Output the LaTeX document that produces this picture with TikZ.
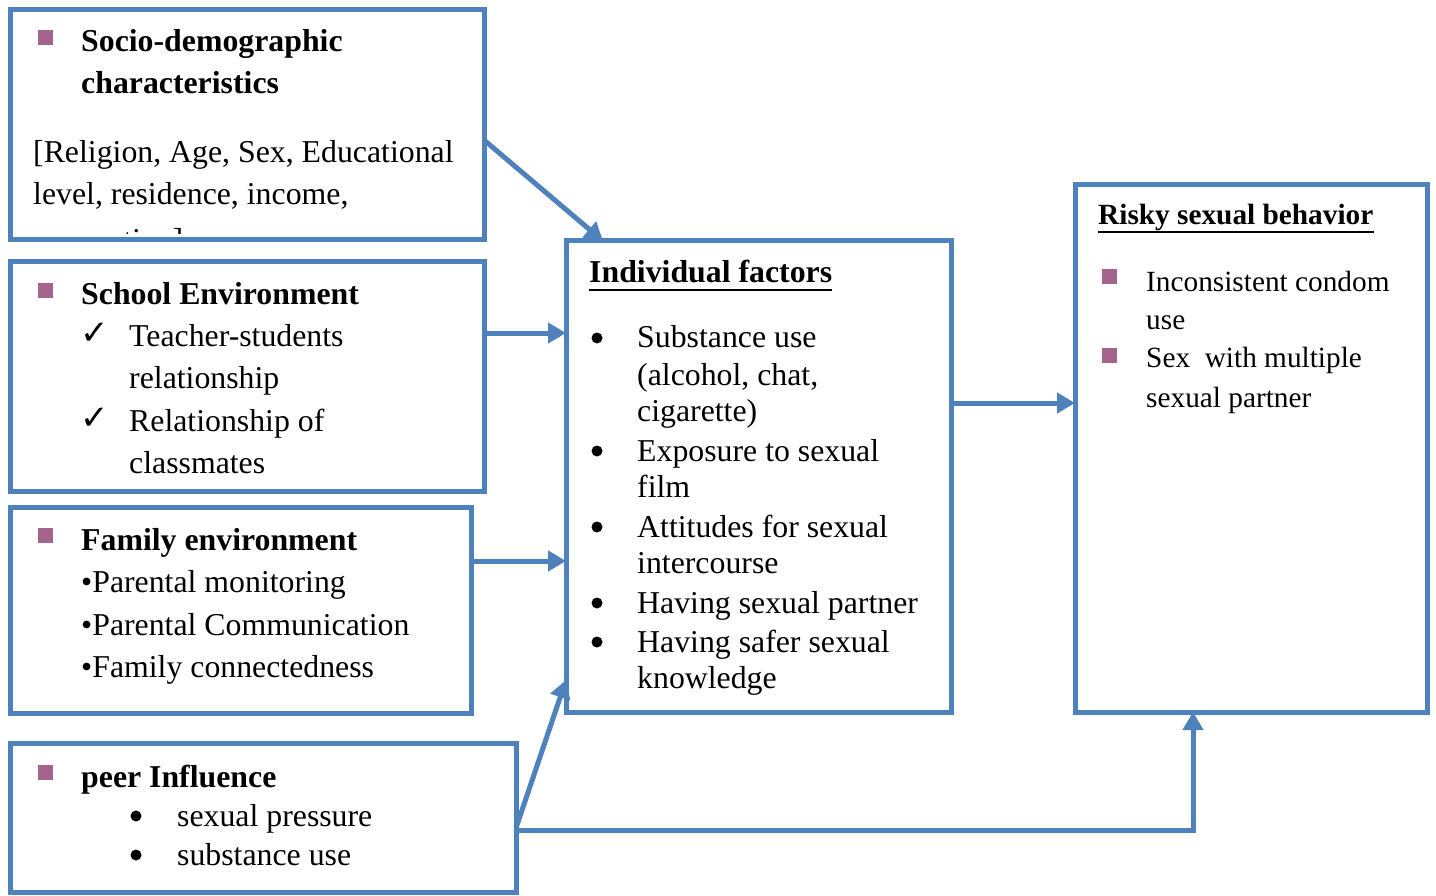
\documentclass[tikz,border=0pt]{standalone}
\usepackage{fontspec}
\setmainfont{Liberation Serif}
\newfontfamily\dejavu{DejaVu Sans}
\usetikzlibrary{arrows.meta,calc}
\definecolor{boxblue}{HTML}{4F81BD}
\definecolor{iconpurple}{RGB}{165,100,140}
\begin{document}
\begin{tikzpicture}[x=1pt,y=-1pt,
  frame/.style={draw=boxblue,line width=5pt,rectangle,inner sep=0pt,outer sep=0pt,fill=white},
  arr/.style={draw=boxblue,line width=5pt,-{Triangle[length=18pt,width=20pt]}},
  txt/.style={anchor=base west,inner sep=0pt,font=\fontsize{31.8}{36}\selectfont},
  stxt/.style={anchor=base west,inner sep=0pt,font=\fontsize{29.3}{34}\selectfont},
  chk/.style={anchor=base west,inner sep=0pt,font=\dejavu\fontsize{34}{38}\selectfont},
  dot/.style={circle,fill=black,minimum size=11pt,inner sep=0pt},
  icon/.style={fill=iconpurple,minimum size=15pt,inner sep=0pt,anchor=north west},
  uline/.style={line width=2.8pt,draw=black}]
\useasboundingbox (0,0) rectangle (1436,896);
\fill[white] (0,0) rectangle (1436,896);
% boxes
\node[frame,minimum width=474pt,minimum height=230pt] (box1) at (247,125) {};
\node[frame,minimum width=474pt,minimum height=229pt] (box2) at (247,376.5) {};
\node[frame,minimum width=461pt,minimum height=206pt] (box3) at (240.5,610) {};
\node[frame,minimum width=506pt,minimum height=149pt] (box4) at (263,817.5) {};
\node[frame,minimum width=385pt,minimum height=471pt] (box5) at (758.5,476.5) {};
\node[frame,minimum width=352pt,minimum height=527pt] (box6) at (1251,448.5) {};
% box 1
\node[icon] (i1) at (38,30) {};
\node[txt] (t1a) at (81,52) {\bfseries Socio-demographic};
\node[txt] (t1b) at (81,94) {\bfseries characteristics};
\node[txt] (t1c) at (33,163) {[Religion, Age, Sex, Educational};
\node[txt] (t1d) at (33,205) {level, residence, income,};
\begin{scope}
\clip (12.5,12.5) rectangle (481.5,234);
\node[txt] (t1e) at (33,251) {occupation]};
\end{scope}
% box 2
\node[icon] (i2) at (38,283) {};
\node[txt] (t2a) at (81,305) {\bfseries School Environment};
\node[chk] (c2a) at (80,344) {✓};
\node[txt] (t2b) at (129,346) {Teacher-students};
\node[txt] (t2c) at (129,388) {relationship};
\node[chk] (c2b) at (80,429) {✓};
\node[txt] (t2d) at (129,431) {Relationship of};
\node[txt] (t2e) at (129,473) {classmates};
% box 3
\node[icon] (i3) at (38,528) {};
\node[txt] (t3a) at (81,550) {\bfseries Family environment};
\node[txt] (t3b) at (81,592) {•Parental monitoring};
\node[txt] (t3c) at (81,635) {•Parental Communication};
\node[txt] (t3d) at (81,677) {•Family connectedness};
% box 4
\node[icon] (i4) at (38,765) {};
\node[txt] (t4a) at (81,787) {\bfseries peer Influence};
\node[dot] (b4a) at (136,816) {};
\node[txt] (t4b) at (177,826) {sexual pressure};
\node[dot] (b4b) at (136,855) {};
\node[txt] (t4c) at (177,865) {substance use};
% box 5
\node[txt] (t5h) at (589,283) {\bfseries Individual factors};
\draw[uline] ([yshift=-7pt]t5h.base west) -- ([yshift=-7pt]t5h.base east);
\node[dot] (b5a) at (597,338) {};
\node[txt] (t5a) at (637,348) {Substance use};
\node[txt] (t5b) at (637,385) {(alcohol, chat,};
\node[txt] (t5c) at (637,421) {cigarette)};
\node[dot] (b5b) at (597,451) {};
\node[txt] (t5d) at (637,461) {Exposure to sexual};
\node[txt] (t5e) at (637,497) {film};
\node[dot] (b5c) at (597,527) {};
\node[txt] (t5f) at (637,537) {Attitudes for sexual};
\node[txt] (t5g) at (637,573) {intercourse};
\node[dot] (b5d) at (597,603) {};
\node[txt] (t5i) at (637,613) {Having sexual partner};
\node[dot] (b5e) at (597,642) {};
\node[txt] (t5j) at (637,652) {Having safer sexual};
\node[txt] (t5k) at (637,688) {knowledge};
% box 6
\node[stxt] (t6h) at (1098,225) {\bfseries Risky sexual behavior};
\draw[uline] ([yshift=-7pt]t6h.base west) -- ([yshift=-7pt]t6h.base east);
\node[icon] (i6a) at (1102,269) {};
\node[stxt] (t6a) at (1146,291) {Inconsistent condom};
\node[stxt] (t6b) at (1146,330) {use};
\node[icon] (i6b) at (1102,348) {};
\node[stxt] (t6c) at (1146,367) {Sex\ \ with multiple};
\node[stxt] (t6d) at (1146,407) {sexual partner};
% connectors
\draw[arr] (box1.east |- 0,140) -- (box5.north -| 603,0);
\draw[arr] (box2.east |- 0,333) -- (box5.west |- 0,333);
\draw[arr] (box3.east |- 0,561) -- (box5.west |- 0,561);
\draw[arr] (box4.east |- 0,828) -- (box5.west |- 0,680);
\draw[arr] (box4.east |- 0,830) -| (box6.south -| 1193,0);
\draw[arr] (box5.east |- 0,403) -- (box6.west |- 0,403);
\end{tikzpicture}
\end{document}
